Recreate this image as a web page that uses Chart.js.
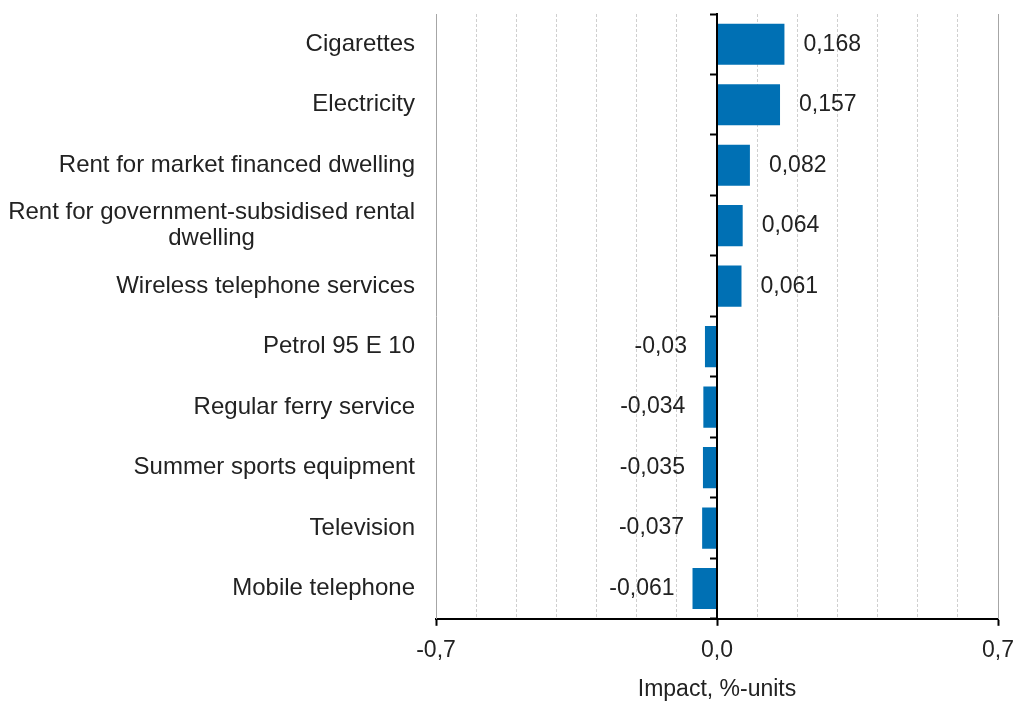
<!DOCTYPE html>
<html>
<head>
<meta charset="utf-8">
<script src="https://cdn.jsdelivr.net/npm/chart.js@4.4.1/dist/chart.umd.min.js"></script>
<style>
  html, body { margin: 0; padding: 0; background: #fff; }
  #wrap { width: 1016px; height: 702px; }
</style>
</head>
<body>
<div id="wrap"><canvas id="impactChart"></canvas></div>
<script>
// Commodities with the largest impact on the annual change of the index
const categories = [
    'Cigarettes',
    'Electricity',
    'Rent for market financed dwelling',
    ['Rent for government-subsidised rental', 'dwelling'],
    'Wireless telephone services',
    'Petrol 95 E 10',
    'Regular ferry service',
    'Summer sports equipment',
    'Television',
    'Mobile telephone'
];
const impact = [0.168, 0.157, 0.082, 0.064, 0.061, -0.03, -0.034, -0.035, -0.037, -0.061];
const xTickLabels = [-0.7, 0.0, 0.7];
const axisTitle = 'Impact, %-units';

const FONT = '"Liberation Sans", Arial, sans-serif';
const TEXT = '#222';
const BAR = '#0070b4';

const fmt = v => String(v).replace('.', ',');
const isLabelled = v => xTickLabels.some(t => Math.abs(t - v) < 1e-6);

Chart.defaults.font.family = FONT;
Chart.defaults.font.size = 23;
Chart.defaults.color = TEXT;

// Category names: right aligned block, lines centred under each other (as in Excel)
const categoryLabels = {
    id: 'categoryLabels',
    afterDraw(chart) {
        const { ctx, chartArea, scales } = chart;
        const x = chartArea.left - 21;
        const lh = 26;
        ctx.save();
        ctx.font = `24px ${FONT}`;
        ctx.fillStyle = TEXT;
        ctx.textBaseline = 'middle';
        ctx.textAlign = 'center';
        chart.data.labels.forEach((lab, i) => {
            const lines = Array.isArray(lab) ? lab : [lab];
            const w = Math.max(...lines.map(l => ctx.measureText(l).width));
            const cy = scales.y.getPixelForTick(i);
            const y0 = cy - (lines.length - 1) * lh / 2;
            lines.forEach((l, j) => ctx.fillText(l, x - w / 2, y0 + j * lh));
        });
        ctx.restore();
    }
};

// Value labels outside the bar end
const valueLabels = {
    id: 'valueLabels',
    afterDatasetsDraw(chart) {
        const { ctx } = chart;
        const meta = chart.getDatasetMeta(0);
        ctx.save();
        ctx.font = `23px ${FONT}`;
        ctx.fillStyle = TEXT;
        ctx.textBaseline = 'middle';
        meta.data.forEach((bar, i) => {
            const v = chart.data.datasets[0].data[i];
            if (v >= 0) {
                ctx.textAlign = 'left';
                ctx.fillText(fmt(v), bar.x + 19, bar.y);
            } else {
                ctx.textAlign = 'right';
                ctx.fillText(fmt(v), bar.x - 18, bar.y);
            }
        });
        ctx.restore();
    }
};

new Chart(document.getElementById('impactChart'), {
    type: 'bar',
    data: {
        labels: categories,
        datasets: [{
            data: impact,
            backgroundColor: BAR,
            borderWidth: 0,
            categoryPercentage: 1,
            barPercentage: 0.68,
            yAxisID: 'y'
        }]
    },
    plugins: [categoryLabels, valueLabels],
    options: {
        indexAxis: 'y',
        responsive: true,
        maintainAspectRatio: false,
        animation: false,
        layout: { padding: { left: 436, right: 18, top: 14, bottom: -1 } },
        scales: {
            x: {
                min: -0.7,
                max: 0.7,
                // let the end labels hang over the canvas margin like the original
                afterFit: s => { s.paddingLeft = 0; s.paddingRight = 0; },
                ticks: {
                    stepSize: 0.1,
                    maxTicksLimit: 20,
                    autoSkip: false,
                    maxRotation: 0,
                    padding: 11,
                    color: TEXT,
                    callback: v => isLabelled(v) ? v.toFixed(1).replace('.', ',') : ''
                },
                grid: {
                    // edges and the zero line are drawn by the y axes
                    color: c => (isLabelled(c.tick.value) ? 'transparent' : '#cfcfcf'),
                    lineWidth: 1,
                    drawTicks: true,
                    tickLength: 7,
                    tickWidth: 2,
                    tickColor: c => (isLabelled(c.tick.value) ? '#000' : 'transparent')
                },
                border: { color: '#000', width: 2, dash: [3, 2] },
                title: {
                    display: true,
                    text: axisTitle,
                    color: TEXT,
                    font: { size: 23 },
                    padding: { top: 0, bottom: 0 }
                }
            },
            y: {
                type: 'category',
                position: 'left',
                offset: true,
                ticks: { display: false },
                grid: { display: false, drawTicks: false },
                border: { color: '#a6a6a6', width: 1 }
            },
            y2: {
                type: 'category',
                axis: 'y',
                position: { x: 0 },
                offset: true,
                ticks: { display: false },
                grid: {
                    offset: true,
                    drawOnChartArea: false,
                    drawTicks: true,
                    tickLength: 6,
                    tickWidth: 2,
                    tickColor: '#000'
                },
                border: { color: '#000', width: 2, z: 1 }
            },
            y3: {
                type: 'category',
                axis: 'y',
                position: { x: 0.7 },
                offset: true,
                ticks: { display: false },
                grid: { display: false, drawTicks: false },
                border: { color: '#a6a6a6', width: 1 }
            }
        },
        plugins: {
            legend: { display: false },
            tooltip: { enabled: false }
        }
    }
});
</script>
</body>
</html>
